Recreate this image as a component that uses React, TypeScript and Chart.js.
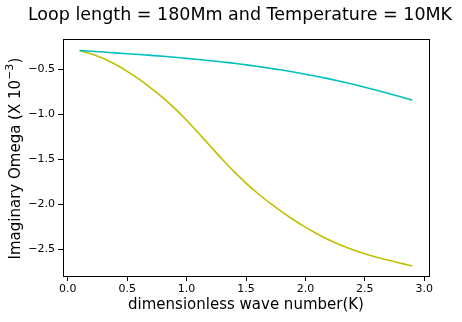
import React, { useEffect, useRef } from "react";
import { Chart, registerables } from "chart.js";

Chart.register(...registerables);

const kValues = [0.1, 0.2, 0.3, 0.4, 0.5, 0.6, 0.7, 0.8, 0.9, 1.0, 1.1, 1.2, 1.3, 1.4, 1.5, 1.6, 1.7, 1.8, 1.9, 2.0, 2.1, 2.2, 2.3, 2.4, 2.5, 2.6, 2.7, 2.8, 2.9];
const cyanSeries = [-0.289, -0.296, -0.305, -0.315, -0.324, -0.333, -0.342, -0.352, -0.363, -0.376, -0.389, -0.402, -0.416, -0.430, -0.448, -0.466, -0.486, -0.506, -0.528, -0.552, -0.577, -0.604, -0.633, -0.664, -0.697, -0.731, -0.767, -0.804, -0.842];
const yellowSeries = [-0.289, -0.327, -0.378, -0.442, -0.520, -0.608, -0.706, -0.814, -0.933, -1.065, -1.208, -1.355, -1.500, -1.638, -1.765, -1.881, -1.985, -2.082, -2.173, -2.256, -2.332, -2.399, -2.457, -2.507, -2.551, -2.590, -2.625, -2.657, -2.689];
const xTicks = [0.0, 0.5, 1.0, 1.5, 2.0, 2.5, 3.0];
const yTicks = [-2.5, -2.0, -1.5, -1.0, -0.5];

const titleText = "Loop length = 180Mm and Temperature = 10MK";
const xTitle = "dimensionless wave number(K)";
const yTitleMain = "Imaginary Omega (X 10";
const yTitleSup = "\u22123";
const yTitleEnd = ")";

const FONT = "'DejaVu Sans', sans-serif";

const fmt = (v: number) => {
  const s = Math.abs(v).toFixed(1);
  return v < -1e-9 ? "\u2212" + s : s;
};

const framePlugin = {
  id: "frame",
  afterDraw(chart: any) {
    const { ctx, chartArea } = chart;
    ctx.save();
    ctx.strokeStyle = "#000";
    ctx.lineWidth = 1;
    ctx.strokeRect(
      Math.round(chartArea.left) + 0.5,
      Math.round(chartArea.top) + 0.5,
      Math.round(chartArea.right - chartArea.left),
      Math.round(chartArea.bottom - chartArea.top)
    );
    ctx.fillStyle = "#000";
    ctx.font = "17.5px " + FONT;
    ctx.textAlign = "center";
    ctx.textBaseline = "middle";
    ctx.fillText(titleText, 240, 15.5);

    // y-axis title with superscript
    ctx.translate(16, (chartArea.top + chartArea.bottom) / 2 + 1);
    ctx.rotate(-Math.PI / 2);
    ctx.textAlign = "left";
    ctx.textBaseline = "middle";
    const mainFont = "15px " + FONT;
    const supFont = "10.5px " + FONT;
    ctx.font = mainFont;
    const w1 = ctx.measureText(yTitleMain).width;
    const w3 = ctx.measureText(yTitleEnd).width;
    ctx.font = supFont;
    const w2 = ctx.measureText(yTitleSup).width;
    const total = w1 + w2 + w3 + 1;
    let x = -total / 2;
    ctx.font = mainFont;
    ctx.fillText(yTitleMain, x, 0);
    x += w1 + 0.5;
    ctx.font = supFont;
    ctx.fillText(yTitleSup, x, -6);
    x += w2 + 0.5;
    ctx.font = mainFont;
    ctx.fillText(yTitleEnd, x, 0);
    ctx.restore();
  },
};

export default function App() {
  const ref = useRef<HTMLCanvasElement>(null);
  useEffect(() => {
    if (!ref.current) return;
    const chart = new Chart(ref.current, {
      type: "line",
      data: {
        datasets: [
          {
            data: kValues.map((k, i) => ({ x: k, y: cyanSeries[i] })),
            borderColor: "#00bfbf",
            borderWidth: 1.6,
            pointRadius: 0,
            cubicInterpolationMode: "monotone",
            fill: false,
          },
          {
            data: kValues.map((k, i) => ({ x: k, y: yellowSeries[i] })),
            borderColor: "#bfbf00",
            borderWidth: 1.6,
            pointRadius: 0,
            cubicInterpolationMode: "monotone",
            fill: false,
          },
        ],
      },
      options: {
        responsive: false,
        animation: false,
        layout: { padding: { left: 0, right: 33, top: 39, bottom: 0 } },
        plugins: {
          legend: { display: false },
          tooltip: { enabled: false },
          title: { display: false },
        },
        scales: {
          x: {
            type: "linear",
            min: -0.04,
            max: 3.04,
            afterBuildTicks: (scale: any) => {
              scale.ticks = xTicks.map((v) => ({ value: v }));
            },
            afterFit: (scale: any) => {
              scale.height = 46;
            },
            ticks: {
              color: "#000",
              font: { family: FONT, size: 11 },
              padding: 2,
              maxRotation: 0,
              autoSkip: false,
              callback: (v: any) => fmt(Number(v)),
            },
            grid: {
              display: true,
              drawOnChartArea: false,
              drawTicks: true,
              tickLength: 5,
              color: "#000",
            },
            border: { display: true, color: "#000" },
            title: {
              display: true,
              text: xTitle,
              color: "#000",
              font: { family: FONT, size: 15 },
              padding: { top: 0, bottom: 8 },
            },
          },
          y: {
            type: "linear",
            min: -2.8,
            max: -0.16,
            afterBuildTicks: (scale: any) => {
              scale.ticks = yTicks.map((v) => ({ value: v }));
            },
            afterFit: (scale: any) => {
              scale.width = 63;
            },
            ticks: {
              color: "#000",
              font: { family: FONT, size: 11 },
              padding: 3,
              autoSkip: false,
              callback: (v: any) => fmt(Number(v)),
            },
            grid: {
              display: true,
              drawOnChartArea: false,
              drawTicks: true,
              tickLength: 5,
              color: "#000",
            },
            border: { display: true, color: "#000" },
            title: { display: false },
          },
        },
      } as any,
      plugins: [framePlugin],
    });
    return () => chart.destroy();
  }, []);

  return (
    <div style={{ position: "absolute", left: 0, top: 0, width: 462, height: 322, background: "#fff" }}>
      <canvas ref={ref} width={462} height={322} style={{ width: 462, height: 322, display: "block" }} />
    </div>
  );
}
